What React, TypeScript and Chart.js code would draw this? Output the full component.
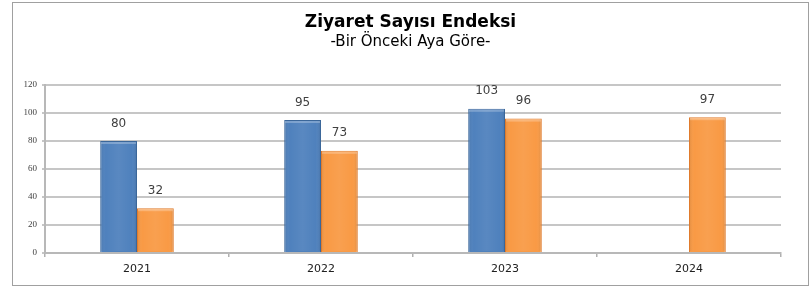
import React, { useEffect, useRef } from "react";
import { Chart, registerables } from "chart.js";

Chart.register(...registerables);

const categories = ["2021", "2022", "2023", "2024"];
const seriesBlue: (number | null)[] = [80, 95, 103, null];
const seriesOrange: (number | null)[] = [32, 73, 96, 97];
const yTicks = [0, 20, 40, 60, 80, 100, 120];

const titleText = "Ziyaret Sayısı Endeksi";
const subtitleText = "-Bir Önceki Aya Göre-";

const barShade = {
  id: "barShade",
  afterDatasetsDraw(chart: any) {
    const ctx = chart.ctx;
    chart.data.datasets.forEach((ds: any, di: number) => {
      const meta = chart.getDatasetMeta(di);
      meta.data.forEach((bar: any, i: number) => {
        const v = ds.data[i];
        if (v === null || v === undefined) return;
        const { x, y, base, width } = bar.getProps(["x", "y", "base", "width"], true);
        const left = x - width / 2;
        const right = x + width / 2;
        ctx.save();
        const g = ctx.createLinearGradient(left, 0, right, 0);
        g.addColorStop(0, "rgba(0,0,0,0.10)");
        g.addColorStop(0.15, "rgba(255,255,255,0.0)");
        g.addColorStop(0.5, "rgba(255,255,255,0.06)");
        g.addColorStop(0.85, "rgba(255,255,255,0.0)");
        g.addColorStop(1, "rgba(0,0,0,0.12)");
        ctx.fillStyle = g;
        ctx.fillRect(left + 1, y + 1, width - 2, base - y - 2);
        ctx.fillStyle = "rgba(255,255,255,0.25)";
        ctx.fillRect(left + 1, y + 1, width - 2, 2);
        ctx.restore();
      });
    });
  },
};

const valueLabels = {
  id: "valueLabels",
  afterDatasetsDraw(chart: any) {
    const ctx = chart.ctx;
    ctx.save();
    ctx.font = "12px 'DejaVu Sans'";
    ctx.fillStyle = "#404040";
    ctx.textAlign = "center";
    ctx.textBaseline = "middle";
    chart.data.datasets.forEach((ds: any, di: number) => {
      const meta = chart.getDatasetMeta(di);
      meta.data.forEach((bar: any, i: number) => {
        const v = ds.data[i];
        if (v === null || v === undefined) return;
        ctx.fillText(String(v), bar.x, bar.y - 17.5);
      });
    });
    ctx.restore();
  },
};

export default function App() {
  const ref = useRef<HTMLCanvasElement | null>(null);

  useEffect(() => {
    if (!ref.current) return;
    const chart = new Chart(ref.current, {
      type: "bar",
      data: {
        labels: categories,
        datasets: [
          {
            label: "A",
            data: seriesBlue,
            backgroundColor: "#4F81BD",
            borderColor: "#3B679A",
            borderWidth: 1,
            categoryPercentage: 0.4,
            barPercentage: 1.0,
          },
          {
            label: "B",
            data: seriesOrange,
            backgroundColor: "#F99A45",
            borderColor: "#E07B2C",
            borderWidth: 1,
            categoryPercentage: 0.4,
            barPercentage: 1.0,
          },
        ],
      },
      options: {
        animation: false,
        responsive: false,
        maintainAspectRatio: false,
        layout: { padding: { left: 0, right: 0, top: 0, bottom: 0 } },
        plugins: {
          legend: { display: false },
          tooltip: { enabled: false },
          title: {
            display: true,
            text: titleText,
            color: "#000000",
            font: { family: "'DejaVu Sans'", size: 17, weight: "bold", lineHeight: 1.2 },
            padding: { top: 9, bottom: 1 },
          },
          subtitle: {
            display: true,
            text: subtitleText,
            color: "#000000",
            font: { family: "'DejaVu Sans'", size: 15, lineHeight: 1.2 },
            padding: { top: 0, bottom: 33.6 },
          },
        },
        scales: {
          x: {
            grid: {
              display: true,
              drawOnChartArea: false,
              drawTicks: true,
              tickLength: 4,
              color: "#B0B0B0",
              lineWidth: 1.5,
            },
            border: { display: true, color: "#B8B8B8", width: 2 },
            ticks: {
              color: "#202020",
              font: { family: "'DejaVu Sans'", size: 11 },
              padding: 5.4,
            },
            afterFit(scale: any) {
              scale.height = 32;
            },
          },
          y: {
            min: 0,
            max: 120,
            afterBuildTicks(scale: any) {
              scale.ticks = yTicks.map((v) => ({ value: v }));
            },
            grid: {
              color: "#C6C6C6",
              lineWidth: 2,
              drawTicks: true,
              tickLength: 3,
            },
            border: { display: true, color: "#B8B8B8", width: 2 },
            ticks: {
              color: "#404040",
              font: { family: "'Liberation Serif'", size: 9 },
              padding: 5,
            },
            afterFit(scale: any) {
              scale.width = 32;
            },
          },
          yRight: {
            type: "linear",
            position: "right",
            display: true,
            grid: { display: false, drawOnChartArea: false },
            border: { display: false },
            ticks: { display: false },
            afterFit(scale: any) {
              scale.width = 27;
            },
          },
        },
      },
      plugins: [barShade, valueLabels],
    });
    return () => chart.destroy();
  }, []);

  return (
    <div
      style={{
        position: "absolute",
        left: 12,
        top: 2,
        width: 797,
        height: 284,
        border: "1px solid #A0A0A0",
        boxSizing: "border-box",
        background: "#ffffff",
      }}
    >
      <canvas ref={ref} width={795} height={282} style={{ display: "block", width: 795, height: 282 }} />
    </div>
  );
}
